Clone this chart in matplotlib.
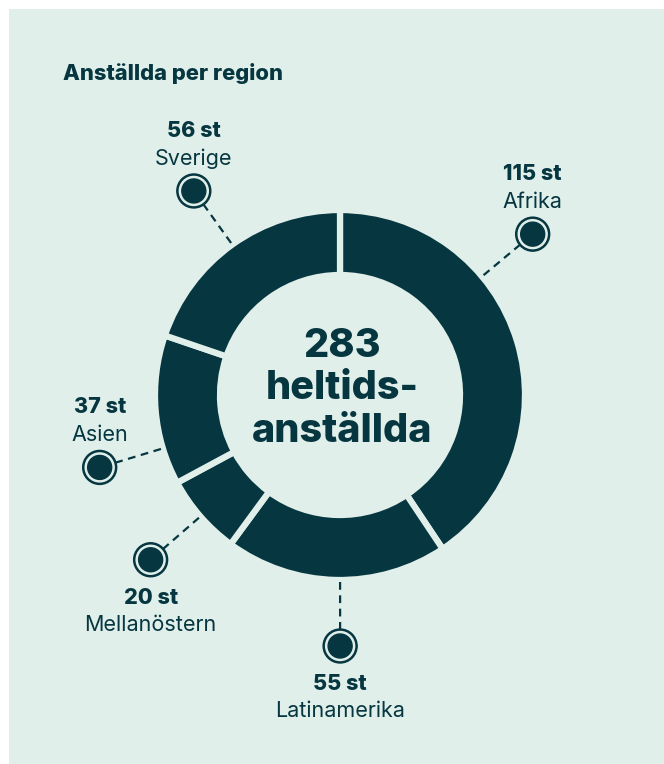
import numpy as np
import matplotlib.pyplot as plt
from matplotlib.patches import Rectangle, Circle

# data
regions = ["Afrika", "Latinamerika", "Mellanöstern", "Asien", "Sverige"]
counts = [115, 55, 20, 37, 56]
total = sum(counts)
title = "Anställda per region"
center_lines = [str(total), "heltids-", "anställda"]

dark = "#063640"
bg = "#e0efea"
W, H = 664, 764
font = "Inter"

fig = plt.figure(figsize=(W / 100, H / 100), dpi=100, facecolor="white")
ax = fig.add_axes([0, 0, 1, 1])

def Y(y):  # image row -> data y
    return H - y

ax.add_patch(Rectangle((9, 0), W - 9, H - 9, facecolor=bg, edgecolor="none", zorder=0))

cx, cy = 340, Y(395)
R, ring = 185, 65
ax.pie(counts, center=(cx, cy), radius=R, startangle=90, counterclock=False,
       colors=[dark] * len(counts),
       wedgeprops=dict(width=ring, edgecolor=bg, linewidth=4.5), frame=True)
ax.set_xlim(0, W)
ax.set_ylim(0, H)
ax.set_aspect("auto")
ax.axis("off")

# center text
for txt, yb in zip(center_lines, [357, 399, 442]):
    ax.text(cx + 2, Y(yb), txt, ha="center", va="baseline", fontsize=28.5,
            fontweight="heavy", color=dark, family=font)

ax.text(63, Y(80), title, ha="left", va="baseline", fontsize=15.8,
        fontweight="heavy", color=dark, family=font)

# label markers
cum = np.cumsum([0] + counts)
mids = 90 - (cum[:-1] + np.array(counts) / 2) / total * 360
nudge = [23, 1.3, 0, 12, 0]
below = [False, True, True, False, False]
r_lab = 251
for name, n, a, dn, b in zip(regions, counts, mids, nudge, below):
    ang = np.radians(a + dn)
    mx, my = cx + r_lab * np.cos(ang), cy + r_lab * np.sin(ang)
    # dashed connector
    r0, r1 = R + 2, r_lab - 17
    ax.plot([cx + r0 * np.cos(ang), cx + r1 * np.cos(ang)],
            [cy + r0 * np.sin(ang), cy + r1 * np.sin(ang)],
            color=dark, lw=1.6, ls=(0, (3.5, 2.5)), zorder=2)
    ax.add_patch(Circle((mx, my), 17, color=dark, zorder=3))
    ax.add_patch(Circle((mx, my), 14.5, color=bg, zorder=4))
    ax.add_patch(Circle((mx, my), 12, color=dark, zorder=5))
    if b:
        y1, y2 = my - 44, my - 71
    else:
        y1, y2 = my + 54, my + 26
    ax.text(mx, y1, f"{n} st", ha="center", va="baseline", fontsize=15.5,
            fontweight="heavy", color=dark, family=font)
    ax.text(mx, y2, name, ha="center", va="baseline", fontsize=15.5,
            color=dark, family=font)

fig.savefig("out.png", dpi=100, facecolor="white")
